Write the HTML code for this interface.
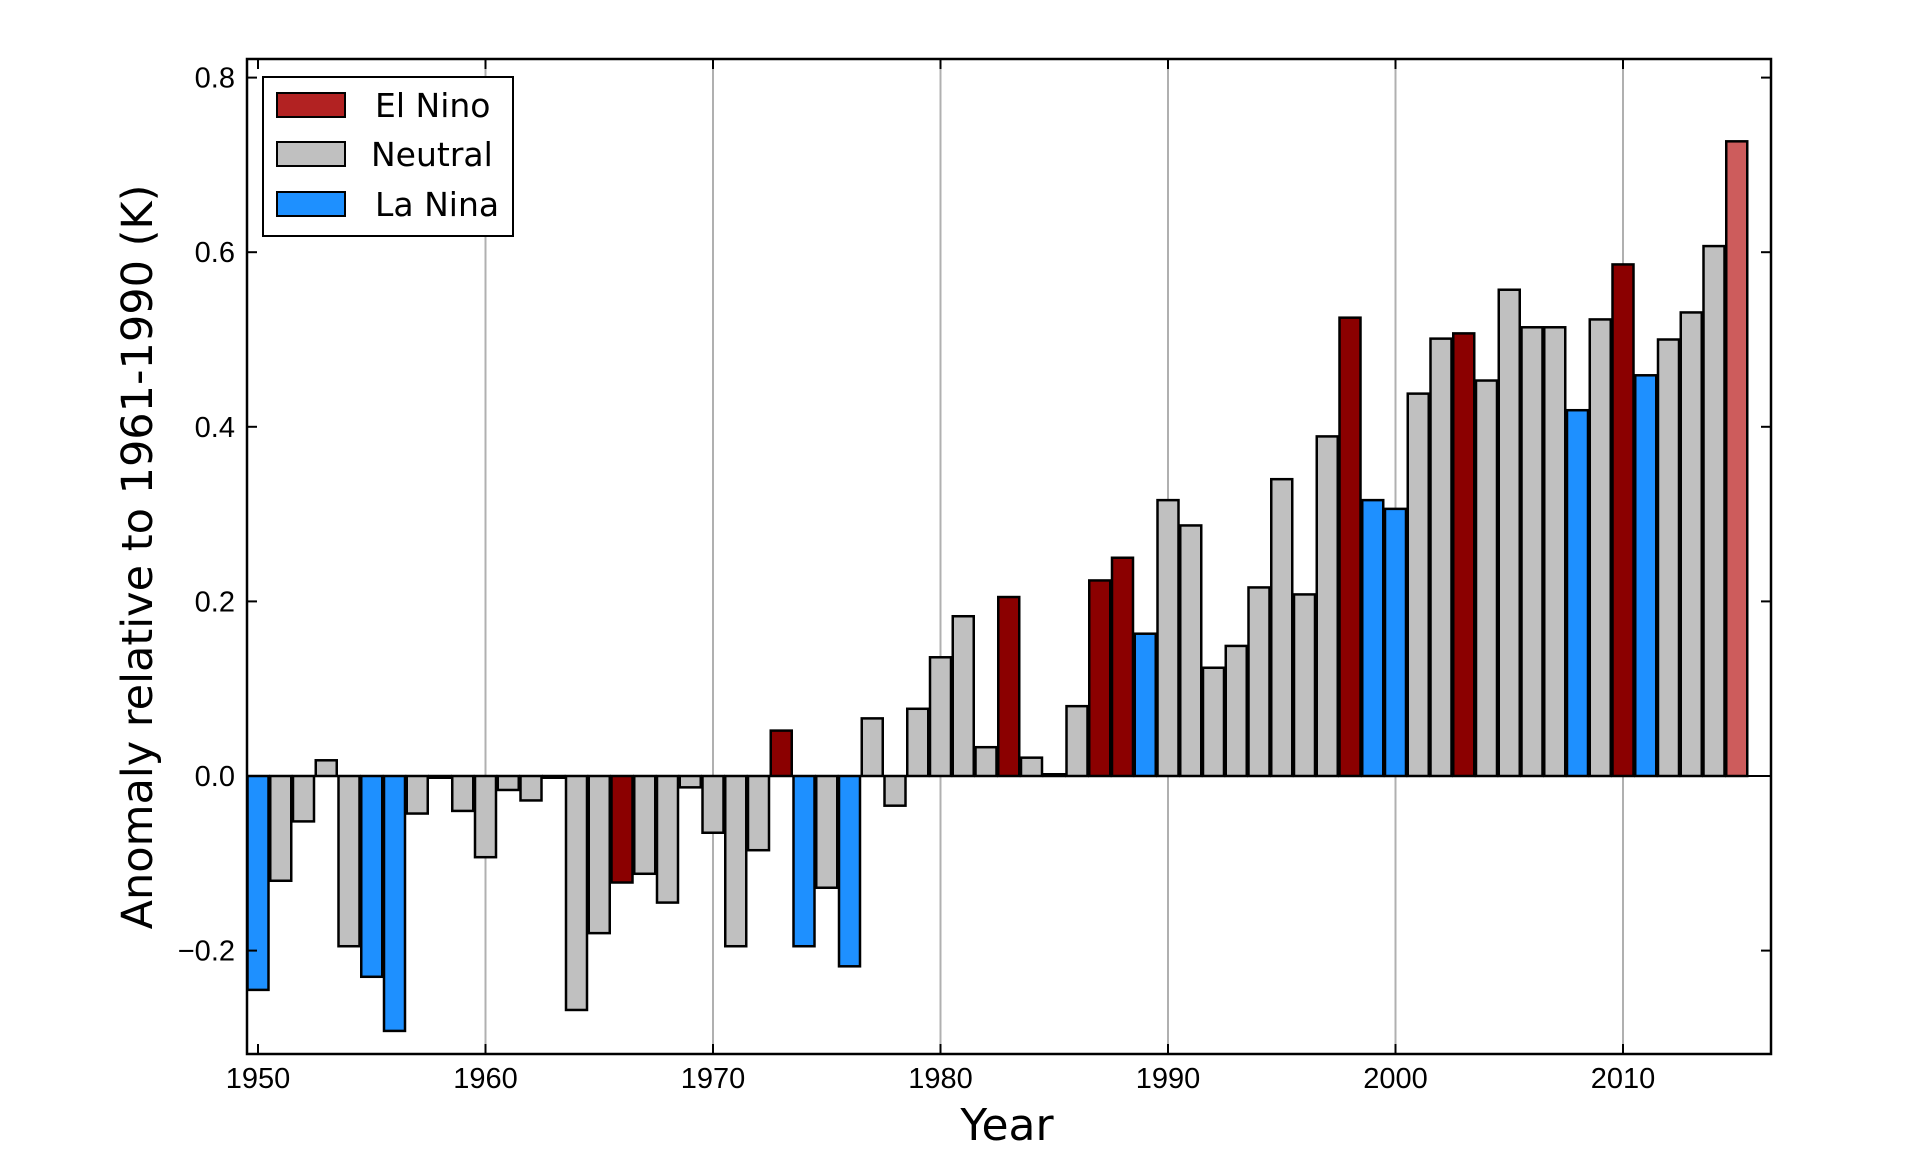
<!DOCTYPE html>
<html><head><meta charset="utf-8"><style>
html,body{margin:0;padding:0;background:#fff;}
svg{display:block;font-family:"DejaVu Sans","Liberation Sans",sans-serif;}
</style></head><body>
<svg id="c" width="1920" height="1152" xmlns="http://www.w3.org/2000/svg">
<rect width="1920" height="1152" fill="#fff"/>
<g id="grid" stroke="#b0b0b0" stroke-width="2"></g>
<g id="bars" stroke="#000" stroke-width="2.5"></g>
<line x1="247" y1="776" x2="1771" y2="776" stroke="#000" stroke-width="2"/>
<rect x="247" y="59" width="1524" height="995" fill="none" stroke="#000" stroke-width="2.5"/>
<g id="ticks" stroke="#000" stroke-width="2"></g>
<g id="labels" font-size="29" fill="#000" font-family="Liberation Sans, sans-serif"></g>
<g font-size="33" fill="#000">
<rect x="263" y="77" width="250" height="159" fill="#fff" stroke="#000" stroke-width="2"/>
<rect x="277" y="93" width="68" height="24" fill="#b22222" stroke="#000" stroke-width="2"/>
<rect x="277" y="142" width="68" height="24" fill="#c0c0c0" stroke="#000" stroke-width="2"/>
<rect x="277" y="192" width="68" height="24" fill="#1e90ff" stroke="#000" stroke-width="2"/>
<text x="375" y="117">El Nino</text>
<text x="371" y="166">Neutral</text>
<text x="375" y="216">La Nina</text>
</g>
<text x="1007" y="1140" font-size="44" text-anchor="middle">Year</text>
<text transform="translate(152,557) rotate(-90)" font-size="43" text-anchor="middle">Anomaly relative to 1961-1990 (K)</text>
</svg>
<script>
var d=[[-0.245,'b'],[-0.12,'g'],[-0.052,'g'],[0.018,'g'],[-0.195,'g'],[-0.23,'b'],[-0.292,'b'],[-0.043,'g'],[-0.002,'g'],[-0.04,'g'],[-0.093,'g'],[-0.016,'g'],[-0.028,'g'],[-0.002,'g'],[-0.268,'g'],[-0.18,'g'],[-0.122,'r'],[-0.112,'g'],[-0.145,'g'],[-0.013,'g'],[-0.065,'g'],[-0.195,'g'],[-0.085,'g'],[0.052,'r'],[-0.195,'b'],[-0.128,'g'],[-0.218,'b'],[0.066,'g'],[-0.034,'g'],[0.077,'g'],[0.136,'g'],[0.183,'g'],[0.033,'g'],[0.205,'r'],[0.021,'g'],[0.002,'g'],[0.08,'g'],[0.224,'r'],[0.25,'r'],[0.163,'b'],[0.316,'g'],[0.287,'g'],[0.124,'g'],[0.149,'g'],[0.216,'g'],[0.34,'g'],[0.208,'g'],[0.389,'g'],[0.525,'r'],[0.316,'b'],[0.306,'b'],[0.438,'g'],[0.501,'g'],[0.507,'r'],[0.453,'g'],[0.557,'g'],[0.514,'g'],[0.514,'g'],[0.419,'b'],[0.523,'g'],[0.586,'r'],[0.459,'b'],[0.5,'g'],[0.531,'g'],[0.607,'g'],[0.727,'l']];
var col={b:'#1e90ff',g:'#c0c0c0',r:'#8b0000',l:'#cd5c5c'};
var NS='http://www.w3.org/2000/svg';
function X(y){return 258+22.75*(y-1950);}
function Y(v){return 776-873*v;}
function el(p,t,a){var e=document.createElementNS(NS,t);for(var k in a)e.setAttribute(k,a[k]);document.getElementById(p).appendChild(e);return e;}
for(var yr=1960;yr<=2010;yr+=10)el('grid','line',{x1:X(yr),y1:59,x2:X(yr),y2:1054});
d.forEach(function(p,i){var v=p[0],x=X(1950+i)-10.5,y0=Y(0),y1=Y(v);
el('bars','rect',{x:x,y:Math.min(y0,y1),width:21,height:Math.max(Math.abs(y1-y0),0.5),fill:col[p[1]]});});
for(var yr=1950;yr<=2010;yr+=10){var x=X(yr);el('ticks','line',{x1:x,y1:1054,x2:x,y2:1044});el('ticks','line',{x1:x,y1:59,x2:x,y2:69});
var t=el('labels','text',{x:x,y:1088,'text-anchor':'middle'});t.textContent=yr;}
[-0.2,0,0.2,0.4,0.6,0.8].forEach(function(v){var y=Y(v);el('ticks','line',{x1:247,y1:y,x2:257,y2:y});el('ticks','line',{x1:1771,y1:y,x2:1761,y2:y});
var t=el('labels','text',{x:235,y:y+10,'text-anchor':'end'});t.textContent=(v<0?'\u2212':'')+Math.abs(v).toFixed(1);});
</script>
</body></html>
